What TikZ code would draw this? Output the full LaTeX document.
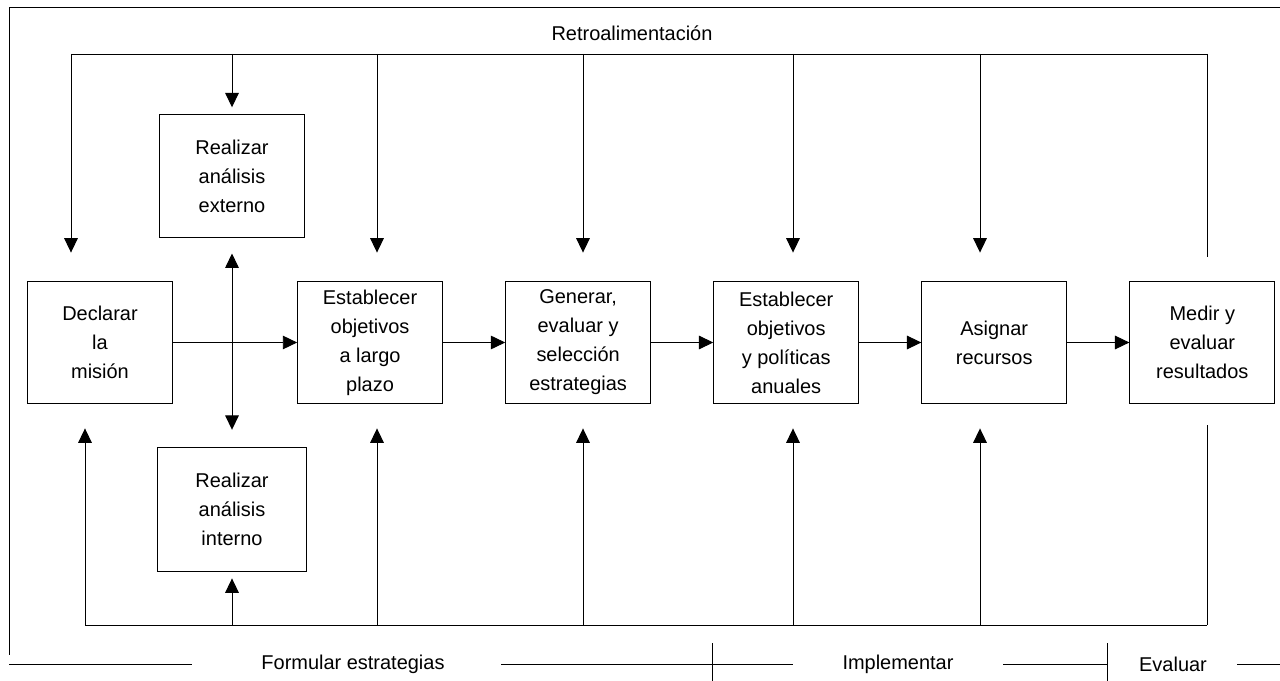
\documentclass[tikz,border=0pt]{standalone}
\usepackage{fontspec}
\setmainfont{Liberation Sans}
\usetikzlibrary{positioning, arrows.meta}

\begin{document}
\begin{tikzpicture}[x=0.025cm, y=-0.025cm, line width=0.7pt, font=\fontsize{14.2}{20.6}\selectfont]
    \tikzstyle{caja}=[draw, minimum width=3.62cm, minimum height=3.07cm, align=center]
    \tikzstyle{flecha}=[-{Triangle[length=0.36cm, width=0.34cm]}]
    \tikzset{node distance=5.2cm, auto}
    \useasboundingbox (0,0) rectangle (1280,681);

    \node[caja] (decl) at (100,342.5) {Declarar\\la\\misión};
    \node[caja, right of=decl, xshift=1.55cm] (est) {Establecer\\objetivos\\a largo\\plazo};
    \node[caja, right of=est] (gen) {Generar,\\evaluar y\\selección\\estrategias};
    \node[caja, right of=gen] (anu) {Establecer\\objetivos\\y políticas\\anuales};
    \node[caja, right of=anu] (asig) {Asignar\\recursos};
    \node[caja, right of=asig] (med) {Medir y\\evaluar\\resultados};
    \node[caja, minimum height=3.05cm] (ext) at (232,176) {Realizar\\análisis\\externo};
    \node[caja, minimum width=3.7cm, minimum height=3.12cm] (int) at (232,509.5) {Realizar\\análisis\\interno};

    \node (retro) at (632,33) {Retroalimentación};
    \node (formular) at (353,664) {Formular estrategias};
    \node (impl) at (898,664) {Implementar};
    \node (eval) at (1173,664) {Evaluar};

    \coordinate (r1) at (71,54);
    \coordinate (r2) at (232,54);
    \coordinate (r3) at (377,54);
    \coordinate (r4) at (583,54);
    \coordinate (r5) at (793,54);
    \coordinate (r6) at (980,54);
    \coordinate (r7) at (1207,54);
    \coordinate (s1) at (85,625);
    \coordinate (s2) at (232,625);
    \coordinate (s3) at (377,625);
    \coordinate (s4) at (583,625);
    \coordinate (s5) at (793,625);
    \coordinate (s6) at (980,625);
    \coordinate (s7) at (1207,625);

    \draw (1280,7) -- (9,7) -- (9,655);
    \draw (r1) -- (r7);
    \draw (s1) -- (s7);

    \draw (r1) edge[flecha, shorten >=0.7cm] (r1 |- decl.north);
    \draw (r2) edge[flecha, shorten >=0.18cm] (ext.north);
    \draw (r3) edge[flecha, shorten >=0.7cm] (r3 |- est.north);
    \draw (r4) edge[flecha, shorten >=0.7cm] (r4 |- gen.north);
    \draw (r5) edge[flecha, shorten >=0.7cm] (r5 |- anu.north);
    \draw (r6) edge[flecha, shorten >=0.7cm] (r6 |- asig.north);
    \draw (r7) edge[shorten >=0.6cm] (r7 |- med.north);

    \draw (s1) edge[flecha, shorten >=0.6cm] (s1 |- decl.south);
    \draw (s2) edge[flecha, shorten >=0.15cm] (int.south);
    \draw (s3) edge[flecha, shorten >=0.6cm] (s3 |- est.south);
    \draw (s4) edge[flecha, shorten >=0.6cm] (s4 |- gen.south);
    \draw (s5) edge[flecha, shorten >=0.6cm] (s5 |- anu.south);
    \draw (s6) edge[flecha, shorten >=0.6cm] (s6 |- asig.south);
    \draw (s7) edge[shorten >=0.52cm] (s7 |- med.south);

    \draw (ext.south) edge[{Triangle[length=0.36cm, width=0.34cm]}-{Triangle[length=0.36cm, width=0.34cm]}, shorten <=0.4cm, shorten >=0.42cm] (int.north);
    \draw (decl) edge[flecha] (est);
    \draw (est) edge[flecha] (gen);
    \draw (gen) edge[flecha] (anu);
    \draw (anu) edge[flecha] (asig);
    \draw (asig) edge[flecha] (med);

    \draw (9,664) -- (192,664);
    \draw (501,664) -- (793,664);
    \draw (1003,664) -- (1107,664);
    \draw (1237,664) -- (1280,664);
    \draw (712,643) -- (712,681);
    \draw (1107,643) -- (1107,681);
\end{tikzpicture}
\end{document}
